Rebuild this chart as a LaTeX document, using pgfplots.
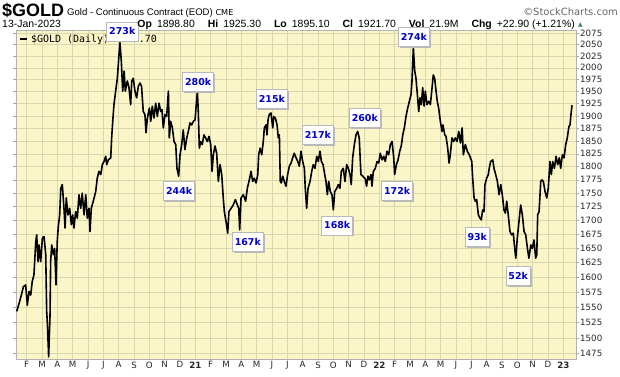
\documentclass[border=0pt]{standalone}
\usepackage{fontspec}
\setmainfont{Liberation Sans}
\newfontfamily\dv{DejaVu Sans}
\newfontfamily\dvm{DejaVu Sans Mono}
\usepackage{pgfplots}
\pgfplotsset{compat=1.18}
\usetikzlibrary{shadows}
\definecolor{bgyel}{HTML}{FAF6C8}
\definecolor{gridc}{HTML}{DAD6AE}
\definecolor{lblue}{HTML}{0000C8}
\definecolor{upgreen}{HTML}{2E8B57}

\begin{document}
\begin{tikzpicture}[x=1bp,y=1bp,
  ann/.style={draw=gray!55, fill=white, line width=0.6pt, inner xsep=2.5bp, inner ysep=0bp,
    minimum height=19bp, anchor=west,
    drop shadow={shadow xshift=1.6bp, shadow yshift=-1.6bp, fill=gray!55, opacity=1},
    font=\dv\bfseries\fontsize{9.5}{10}\selectfont, text=lblue}]
\useasboundingbox (0,0) rectangle (620,376);
\begin{axis}[
  at={(16bp,17bp)}, anchor=south west,
  scale only axis, width=560bp, height=328.5bp,
  ymode=log,
  xmin=0.30, xmax=36.83, ymin=1466.8, ymax=2081,
  axis background/.style={fill=bgyel},
  axis line style={draw=gray!60, line width=0.6pt},
  grid=major, major grid style={draw=gridc, line width=0.5pt},
  xtick={1,...,36},
  xticklabels={F,M,A,M,J,J,A,S,O,N,D,\textbf{21},F,M,A,M,J,J,A,S,O,N,D,\textbf{22},F,M,A,M,J,J,A,S,O,N,D,\textbf{23}},
  x tick style={draw=none},
  xticklabel style={font=\dv\fontsize{8.7}{9}\selectfont, text=black!85, inner sep=1bp, yshift=-1.5bp},
  ytick={1475,1500,1525,1550,1575,1600,1625,1650,1675,1700,1725,1750,1775,1800,1825,1850,1875,1900,1925,1950,1975,2000,2025,2050,2075},
  yticklabels={1475,1500,1525,1550,1575,1600,1625,1650,1675,1700,1725,1750,1775,1800,1825,1850,1875,1900,1925,1950,1975,2000,2025,2050,2075},
  yticklabel pos=right,
  ytick align=outside, major tick length=3bp,
  y tick style={draw=gray!70, line width=0.5pt},
  yticklabel style={font=\dv\fontsize{8.7}{9}\selectfont, text=black!85, inner sep=1bp, xshift=0bp},
  minor tick num=0,
  clip=false,
]
\addplot[black, line width=1.6bp, line join=round] coordinates {
(0.35,1543)(0.50,1556)(0.65,1570)(0.78,1584)(0.93,1587)(1.04,1553)(1.15,1576)(1.26,1570)(1.36,1593)(1.47,1604)
(1.59,1662)(1.65,1674)(1.74,1627)(1.80,1656)(1.91,1627)(2.02,1668)(2.13,1671)(2.24,1639)(2.30,1543)(2.34,1526)
(2.41,1483)(2.43,1470)(2.52,1537)(2.56,1627)(2.63,1656)(2.73,1639)(2.82,1650)(2.91,1587)(2.99,1662)(3.06,1689)
(3.15,1710)(3.22,1759)(3.32,1766)(3.43,1722)(3.50,1686)(3.58,1741)(3.69,1710)(3.80,1722)(3.91,1692)(4.00,1710)
(4.08,1686)(4.19,1716)(4.30,1704)(4.41,1747)(4.52,1722)(4.62,1750)(4.74,1710)(4.85,1747)(4.95,1704)(5.06,1722)
(5.13,1680)(5.21,1722)(5.34,1735)(5.50,1753)(5.60,1778)(5.71,1791)(5.83,1785)(5.93,1804)(6.04,1810)(6.15,1820)
(6.22,1804)(6.32,1813)(6.48,1817)(6.54,1856)(6.61,1889)(6.69,1923)(6.80,1951)(6.91,1978)(7.02,2028)(7.08,2054)
(7.17,2014)(7.26,1951)(7.35,1993)(7.43,1951)(7.56,1972)(7.67,1958)(7.78,1923)(7.85,1972)(7.95,1978)(8.06,1951)
(8.17,1937)(8.28,1961)(8.39,1968)(8.49,1961)(8.60,1909)(8.71,1903)(8.78,1866)(8.87,1896)(9.00,1916)(9.09,1889)
(9.19,1920)(9.30,1896)(9.41,1926)(9.52,1899)(9.63,1926)(9.74,1909)(9.82,1913)(9.91,1876)(10.02,1903)(10.13,1899)
(10.24,1951)(10.30,1856)(10.39,1889)(10.50,1876)(10.61,1849)(10.72,1843)(10.80,1797)(10.91,1782)(11.00,1823)(11.11,1843)
(11.21,1872)(11.32,1833)(11.44,1856)(11.54,1869)(11.65,1886)(11.76,1882)(11.87,1889)(11.98,1892)(12.04,1916)(12.13,1951)
(12.19,1909)(12.26,1836)(12.35,1849)(12.45,1843)(12.56,1862)(12.67,1856)(12.78,1849)(12.89,1859)(13.00,1843)(13.09,1791)
(13.17,1823)(13.28,1840)(13.39,1826)(13.50,1772)(13.61,1804)(13.72,1785)(13.82,1741)(13.89,1716)(14.00,1698)(14.11,1677)
(14.19,1716)(14.33,1722)(14.47,1728)(14.61,1738)(14.74,1728)(14.83,1722)(14.89,1683)(14.98,1741)(15.13,1747)(15.28,1735)
(15.39,1759)(15.52,1775)(15.63,1791)(15.74,1772)(15.84,1778)(15.96,1769)(16.07,1785)(16.13,1823)(16.22,1836)(16.33,1823)
(16.43,1849)(16.50,1876)(16.61,1882)(16.67,1862)(16.74,1892)(16.82,1903)(16.93,1906)(17.05,1876)(17.11,1899)(17.22,1896)
(17.33,1882)(17.41,1856)(17.48,1862)(17.54,1772)(17.61,1769)(17.70,1782)(17.80,1772)(17.91,1763)(18.02,1785)(18.13,1801)
(18.24,1807)(18.35,1817)(18.45,1826)(18.57,1817)(18.68,1810)(18.78,1801)(18.89,1830)(19.00,1810)(19.11,1797)(19.17,1759)
(19.26,1722)(19.35,1759)(19.48,1772)(19.59,1791)(19.69,1804)(19.80,1797)(19.92,1820)(20.02,1810)(20.13,1830)(20.22,1810)
(20.33,1804)(20.44,1785)(20.52,1772)(20.61,1747)(20.70,1772)(20.80,1753)(20.91,1747)(21.00,1719)(21.09,1753)(21.22,1759)
(21.32,1766)(21.43,1759)(21.52,1791)(21.65,1797)(21.76,1772)(21.87,1804)(21.98,1797)(22.09,1785)(22.17,1766)(22.26,1817)
(22.37,1843)(22.48,1862)(22.59,1869)(22.69,1856)(22.80,1785)(22.92,1782)(23.08,1777)(23.17,1763)(23.26,1782)(23.35,1775)
(23.46,1785)(23.52,1763)(23.61,1791)(23.74,1797)(23.85,1810)(23.96,1807)(24.06,1826)(24.18,1813)(24.29,1820)(24.39,1810)
(24.50,1830)(24.61,1823)(24.72,1843)(24.83,1849)(24.94,1817)(25.00,1785)(25.11,1804)(25.22,1813)(25.33,1830)(25.43,1840)
(25.53,1862)(25.63,1876)(25.74,1899)(25.85,1916)(25.96,1930)(26.07,1944)(26.13,1972)(26.22,2043)(26.31,1993)(26.39,1978)
(26.48,1944)(26.57,1909)(26.65,1937)(26.74,1923)(26.83,1958)(26.92,1920)(27.00,1951)(27.11,1923)(27.22,1930)(27.33,1923)
(27.44,1958)(27.52,1985)(27.61,1978)(27.70,1951)(27.78,1930)(27.87,1916)(27.98,1889)(28.09,1869)(28.15,1882)(28.27,1862)
(28.35,1859)(28.46,1836)(28.55,1807)(28.63,1823)(28.74,1856)(28.85,1849)(28.96,1856)(29.07,1849)(29.18,1869)(29.29,1846)
(29.40,1876)(29.48,1823)(29.61,1843)(29.74,1830)(29.87,1823)(30.03,1810)(30.09,1778)(30.18,1741)(30.26,1735)(30.35,1738)
(30.46,1710)(30.57,1704)(30.65,1701)(30.74,1719)(30.83,1716)(30.89,1766)(31.00,1778)(31.11,1785)(31.17,1797)(31.26,1810)
(31.40,1813)(31.48,1797)(31.59,1785)(31.70,1772)(31.81,1747)(31.92,1766)(32.02,1747)(32.13,1719)(32.22,1713)(32.31,1735)
(32.41,1710)(32.52,1680)(32.63,1674)(32.74,1677)(32.81,1656)(32.90,1633)(33.00,1668)(33.11,1698)(33.22,1728)(33.33,1710)
(33.44,1680)(33.55,1674)(33.66,1650)(33.76,1633)(33.88,1656)(33.98,1650)(34.09,1665)(34.20,1633)(34.27,1639)(34.33,1710)
(34.42,1716)(34.53,1772)(34.61,1775)(34.70,1772)(34.81,1753)(34.92,1741)(35.02,1759)(35.13,1810)(35.22,1785)(35.31,1810)
(35.42,1797)(35.53,1820)(35.64,1804)(35.74,1817)(35.83,1797)(35.94,1823)(36.05,1817)(36.16,1843)(36.26,1856)(36.37,1879)
(36.44,1882)(36.50,1903)(36.57,1921.7)
};
% legend
\node[anchor=west, inner sep=0pt, font=\dvm\fontsize{10}{10}\selectfont] at (axis cs:0.55,2060) {\rule[2.6bp]{7bp}{2.2bp}\hspace{4bp}\$GOLD (Daily) 1921.70};
% volume annotations
\node[ann] at (axis cs:6.20,2079) {273k\hspace{10bp}};
\node[ann] at (axis cs:11.15,1969.6) {280k\hspace{10bp}};
\node[ann] at (axis cs:9.91,1754) {244k\hspace{10bp}};
\node[ann] at (axis cs:14.39,1661) {167k\hspace{10bp}};
\node[ann] at (axis cs:15.96,1934) {215k\hspace{10bp}};
\node[ann] at (axis cs:18.96,1862) {217k\hspace{10bp}};
\node[ann] at (axis cs:20.22,1691) {168k\hspace{10bp}};
\node[ann] at (axis cs:22.02,1896) {260k\hspace{10bp}};
\node[ann] at (axis cs:24.13,1755) {172k\hspace{10bp}};
\node[ann] at (axis cs:25.22,2066.5) {274k\hspace{10bp}};
\node[ann] at (axis cs:29.57,1670.6) {93k\hspace{7bp}};
\node[ann] at (axis cs:32.24,1602.6) {52k\hspace{7bp}};
\end{axis}
% header
\node[anchor=base west, inner sep=0pt, font=\bfseries\fontsize{18}{18}\selectfont] at (2,360) {\$GOLD};
\node[anchor=base west, inner sep=0pt, font=\fontsize{9.6}{9.6}\selectfont] at (67,361) {Gold - Continuous Contract (EOD) {\dv\fontsize{8.2}{8.2}\selectfont CME}};
\node[anchor=base east, inner sep=0pt, font=\dv\fontsize{10}{10}\selectfont, text=black!60] at (618,361) {\textcopyright StockCharts.com};
\node[anchor=base west, inner sep=0pt, font=\fontsize{10.5}{10.5}\selectfont] at (2,349) {13-Jan-2023};
\node[anchor=base east, inner sep=0pt, font=\fontsize{10.5}{10.5}\selectfont] at (575,349) {\textbf{Op}\hspace{5bp}1898.80\hspace{13bp}\textbf{Hi}\hspace{5bp}1925.30\hspace{13bp}\textbf{Lo}\hspace{5bp}1895.10\hspace{13bp}\textbf{Cl}\hspace{5bp}1921.70\hspace{13bp}\textbf{Vol}\hspace{5bp}21.9M\hspace{13bp}\textbf{Chg}\hspace{5bp}+22.90 (+1.21\%)};
\node[anchor=base west, inner sep=0pt, font=\dv\fontsize{6}{6}\selectfont, text=upgreen] at (578,350) {▲};
\end{tikzpicture}
\end{document}
